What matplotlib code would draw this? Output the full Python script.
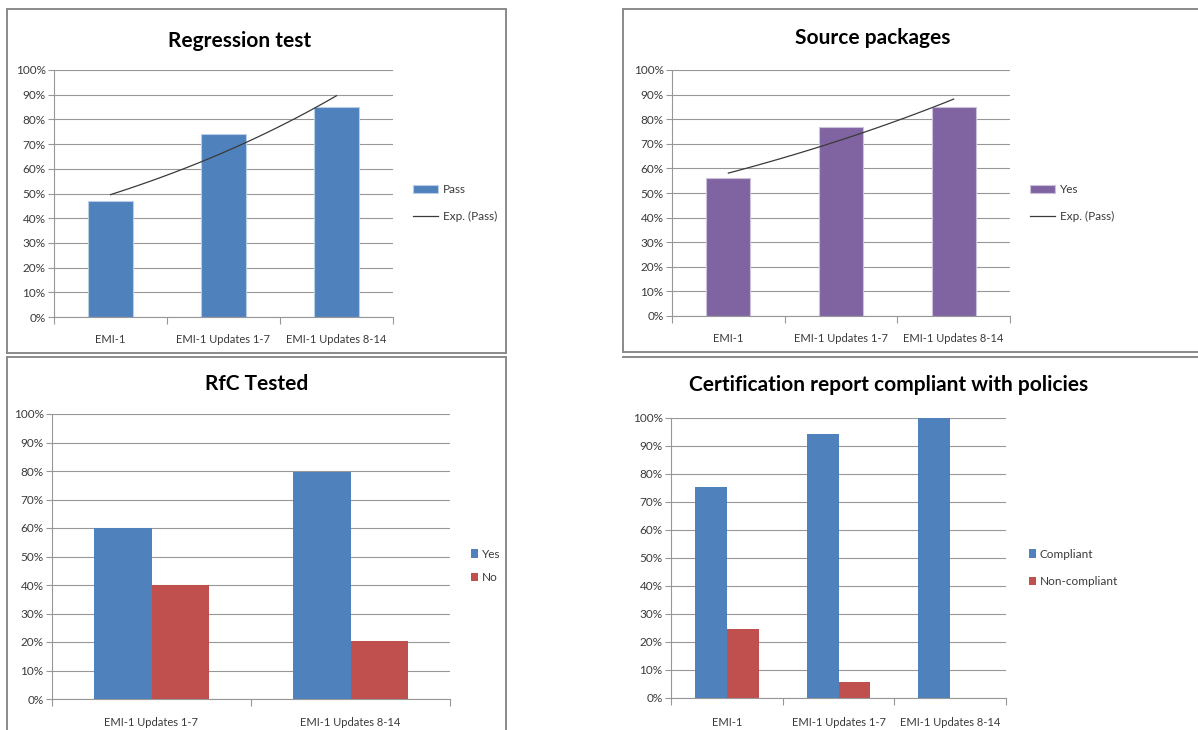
import numpy as np
import matplotlib
matplotlib.use("Agg")
import matplotlib.pyplot as plt
from matplotlib.lines import Line2D
from matplotlib.ticker import FuncFormatter, FixedLocator

# ---- data -------------------------------------------------------------
releases3 = ["EMI-1", "EMI-1 Updates 1-7", "EMI-1 Updates 8-14"]
releases2 = ["EMI-1 Updates 1-7", "EMI-1 Updates 8-14"]

regression_pass = [47, 74, 85]
source_yes = [56, 77, 85]

rfc_yes = [60, 79.5]
rfc_no = [40, 20.5]

cert_compliant = [75.5, 94.2, 100]
cert_noncompliant = [24.5, 5.8, 0]

yticks = list(range(0, 101, 10))

# ---- styling ----------------------------------------------------------
BLUE = "#4F81BD"
RED = "#C0504D"
PURPLE = "#8064A2"
GRID = "#979797"
FRAME = "#8A8A8A"
TXT = "#3A3A3A"
FONT = "Lato"
TICK_FS = 8.5
CAT_FS = 8
LEG_FS = 8.5
TITLE_FS = 15

plt.rcParams["font.family"] = [FONT, "DejaVu Sans"]

W, H = 1198, 730
fig = plt.figure(figsize=(W / 100, H / 100), dpi=100)
fig.patch.set_facecolor("white")


def px_axes(l, t, r, b):
    return fig.add_axes([l / W, 1 - b / H, (r - l) / W, (b - t) / H])


def fig_line(x0, y0, x1, y1):
    fig.add_artist(Line2D([x0 / W, x1 / W], [1 - y0 / H, 1 - y1 / H],
                          transform=fig.transFigure, color=FRAME, lw=1.4))


def style_axes(ax, ncat):
    ax.set_ylim(0, 100)
    ax.set_xlim(-0.5, ncat - 0.5)
    ax.yaxis.set_major_locator(FixedLocator(yticks))
    ax.yaxis.set_major_formatter(FuncFormatter(lambda v, p: f"{int(v)}%"))
    ax.grid(axis="y", color=GRID, lw=0.8)
    ax.set_axisbelow(True)
    for s in ("top", "right"):
        ax.spines[s].set_visible(False)
    for s in ("left", "bottom"):
        ax.spines[s].set_color(GRID)
        ax.spines[s].set_linewidth(0.8)
    ax.tick_params(axis="y", length=4, width=0.8, color=GRID,
                   labelsize=TICK_FS, labelcolor=TXT, pad=2)
    # category ticks sit between categories, labels sit at category centres
    ax.set_xticks(np.arange(ncat))
    ax.set_xticks(np.arange(-0.5, ncat, 1.0), minor=True)
    ax.tick_params(axis="x", which="major", length=0, labelsize=CAT_FS,
                   labelcolor=TXT, pad=12)
    ax.tick_params(axis="x", which="minor", length=5, width=0.8, color=GRID)


def exp_trend(values):
    x = np.arange(len(values))
    b, ln_a = np.polyfit(x, np.log(values), 1)
    xs = np.linspace(0, len(values) - 1, 60)
    return xs, np.exp(ln_a) * np.exp(b * xs)


def legend(handles, x, y, square, spacing):
    if square:
        kw = dict(handlelength=0.6, handleheight=0.7, handletextpad=0.3)
    else:
        kw = dict(handlelength=2.1, handleheight=0.7, handletextpad=0.4)
    fig.legend(handles=handles, loc="center left",
               bbox_to_anchor=(x / W, 1 - y / H), frameon=False,
               fontsize=LEG_FS, labelspacing=spacing, labelcolor=TXT,
               borderaxespad=0, borderpad=0, **kw)


# ---- frames -----------------------------------------------------------
fig_line(7, 9, 506, 9); fig_line(7, 353, 506, 353)
fig_line(7, 9, 7, 353); fig_line(506, 9, 506, 353)
fig_line(623, 9, 1198, 9); fig_line(623, 352, 1198, 352)
fig_line(623, 9, 623, 352)
fig_line(7, 357, 506, 357); fig_line(7, 357, 7, 730); fig_line(506, 357, 506, 730)
fig_line(623, 357, 1198, 357)

x3 = np.arange(3)
x2 = np.arange(2)

# ---- Regression test --------------------------------------------------
ax1 = px_axes(54, 70, 393, 317)
style_axes(ax1, 3)
b1 = ax1.bar(x3, regression_pass, width=0.39, color=BLUE,
             edgecolor="#B9CDE5", linewidth=0.8, label="Pass")
tx, ty = exp_trend(regression_pass)
l1, = ax1.plot(tx, ty, color="#3A3A3A", lw=0.9, label="Exp. (Pass)")
ax1.set_xticklabels(releases3)
ax1.set_title("Regression test", fontsize=TITLE_FS, fontweight="bold",
              pad=16.5, x=0.546)
legend([b1, l1], 413, 203, False, 1.3)

# ---- Source packages --------------------------------------------------
ax2 = px_axes(672, 70, 1010, 316)
style_axes(ax2, 3)
b2 = ax2.bar(x3, source_yes, width=0.39, color=PURPLE,
             edgecolor="#CCC1DA", linewidth=0.8, label="Yes")
tx, ty = exp_trend(source_yes)
l2, = ax2.plot(tx, ty, color="#3A3A3A", lw=0.9, label="Exp. (Pass)")
ax2.set_xticklabels(releases3)
ax2.set_title("Source packages", fontsize=TITLE_FS, fontweight="bold",
              pad=19, x=0.595)
legend([b2, l2], 1030, 203, False, 1.3)

# ---- RfC Tested -------------------------------------------------------
ax3 = px_axes(52, 414, 450, 699)
style_axes(ax3, 2)
bw = 0.287
b3a = ax3.bar(x2 - bw / 2, rfc_yes, width=bw, color=BLUE, label="Yes")
b3b = ax3.bar(x2 + bw / 2, rfc_no, width=bw, color=RED, label="No")
ax3.set_xticklabels(releases2)
ax3.tick_params(axis="x", which="major", pad=13)
ax3.set_title("RfC Tested", fontsize=TITLE_FS, fontweight="bold",
              pad=17.5, x=0.515)
legend([b3a, b3b], 471, 566, True, 1.1)

# ---- Certification report ---------------------------------------------
ax4 = px_axes(671, 418, 1006, 698)
style_axes(ax4, 3)
bw = 0.285
b4a = ax4.bar(x3 - bw / 2, cert_compliant, width=bw, color=BLUE,
              label="Compliant")
b4b = ax4.bar(x3 + bw / 2, cert_noncompliant, width=bw, color=RED,
              label="Non-compliant")
ax4.set_xticklabels(releases3)
ax4.tick_params(axis="x", which="major", pad=14)
ax4.set_title("Certification report compliant with policies",
              fontsize=TITLE_FS, fontweight="bold", pad=19.5, x=0.648)
legend([b4a, b4b], 1029, 568, True, 1.4)

fig.savefig("out.png", dpi=100)
